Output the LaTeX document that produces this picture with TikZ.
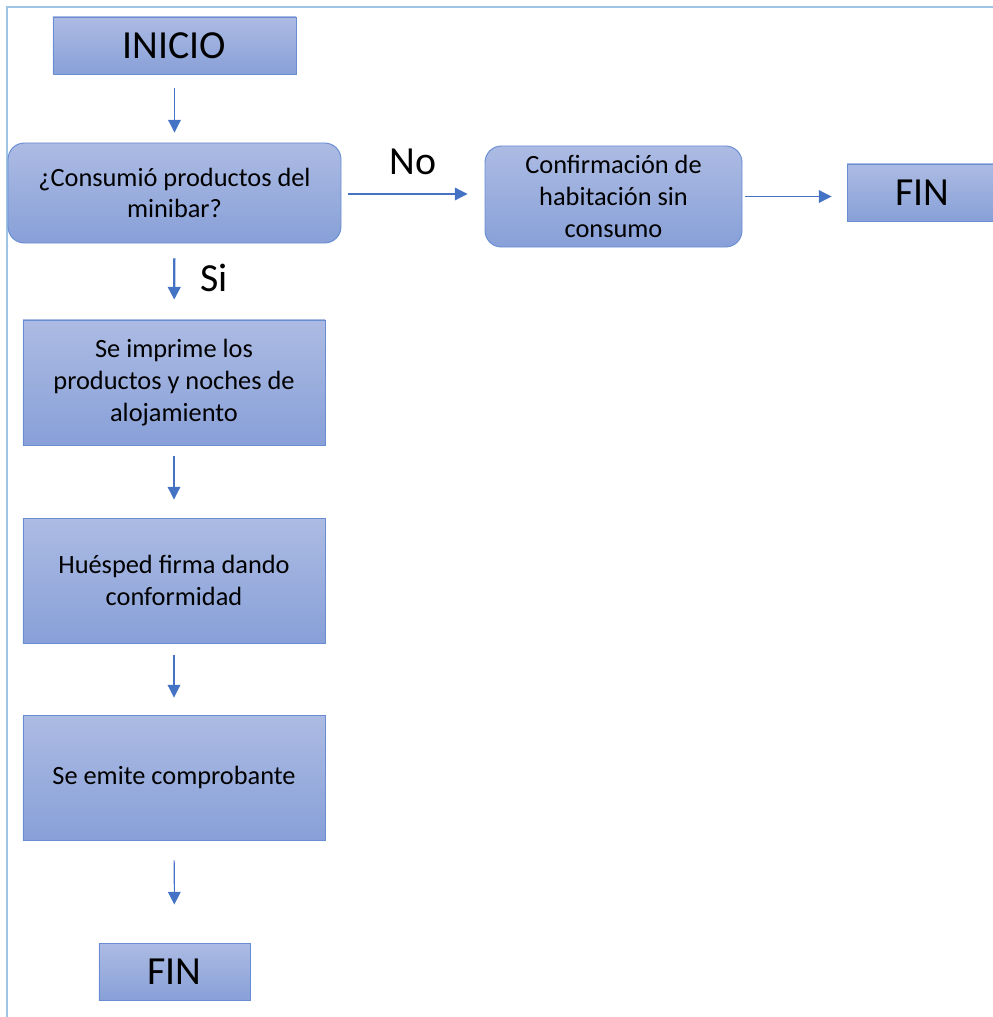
\documentclass[tikz,border=0pt]{standalone}
\usepackage{fontspec}
\setmainfont{Carlito}
\usetikzlibrary{arrows.meta}
\definecolor{boxtop}{RGB}{172,187,227}
\definecolor{boxbot}{RGB}{136,160,216}
\definecolor{boxline}{RGB}{105,141,210}
\definecolor{arrowblue}{RGB}{68,114,196}
\definecolor{framblue}{RGB}{160,196,232}
\begin{document}
\begin{tikzpicture}[x=0.03cm, y=-0.03cm, every node/.style={font=\fontsize{22.5}{27}\selectfont},
  mybox/.style={draw=boxline,top color=boxtop,bottom color=boxbot,align=center,inner sep=0pt,line width=0.8pt},
  myround/.style={mybox,rounded corners=14pt},
  bigtxt/.style={font=\fontsize{34}{40}\selectfont},
  myarrow/.style={-{Triangle[length=0.38cm,width=0.38cm]},draw=arrowblue,line width=0.9pt}]
\useasboundingbox (0,0) rectangle (993,1017);
\clip (0,0) rectangle (993,1017);
\draw[framblue,line width=1.2pt] (7,1020) -- (7,7) -- (1000,7);
\node[mybox,bigtxt,minimum width=7.29cm,minimum height=1.71cm] (inicio) at (174.5,45.5) {INICIO};
\node[myround,minimum width=9.99cm,minimum height=3.0cm] (consumo) at (174.5,193) {¿Consumió productos del\\ minibar?};
\node[myround,minimum width=7.71cm,minimum height=3.03cm] (confirma) at (613.5,196.5) {Confirmación de\\ habitación sin\\ consumo};
\node[mybox,bigtxt,minimum width=4.53cm,minimum height=1.71cm] (finA) at (922.5,192.5) {FIN};
\node[mybox,minimum width=9.06cm,minimum height=3.75cm] (imprime) at (174,382.5) {Se imprime los\\ productos y noches de\\ alojamiento};
\node[mybox,minimum width=9.06cm,minimum height=3.75cm] (firma) at (174,580.5) {Huésped firma dando\\ conformidad};
\node[mybox,minimum width=9.06cm,minimum height=3.75cm] (emite) at (174,777.5) {Se emite comprobante};
\node[mybox,bigtxt,minimum width=4.53cm,minimum height=1.71cm] (finB) at (174.5,971.5) {FIN};
\draw[myarrow,shorten <=0.42cm,shorten >=0.3cm] (inicio) -- (consumo);
\draw[myarrow,shorten <=0.21cm,shorten >=0.51cm] ([yshift=-0.03cm]consumo.east) -- ([yshift=-0.03cm]consumo.east -| confirma.west)
  node[midway,above=0.57cm,inner sep=0pt,bigtxt] {No};
\draw[myarrow,shorten <=0.09cm,shorten >=0.45cm] (confirma.east) -- (confirma.east -| finA.west);
\draw[myarrow,line width=2pt,shorten <=0.45cm,shorten >=0.6cm] (consumo) -- (imprime)
  node[midway,right=0.75cm,yshift=0.12cm,inner sep=0pt,bigtxt] {Si};
\draw[myarrow,shorten <=0.33cm,shorten >=0.54cm] (imprime) -- (firma);
\draw[myarrow,shorten <=0.36cm,shorten >=0.51cm] (firma) -- (emite);
\draw[myarrow,shorten <=0.6cm,shorten >=1.14cm] (emite) -- (finB);
\end{tikzpicture}
\end{document}
